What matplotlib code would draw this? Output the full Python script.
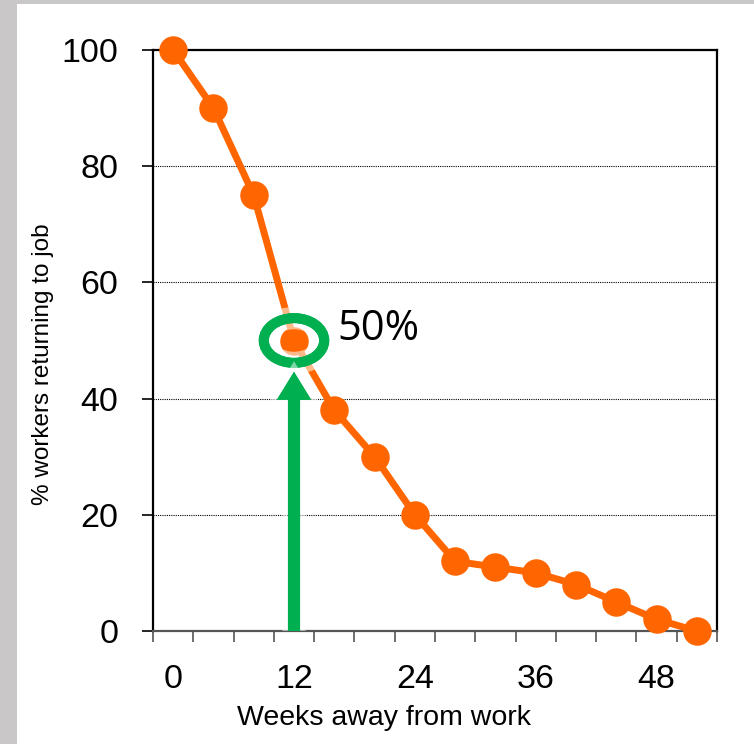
import matplotlib

matplotlib.use("Agg")
import matplotlib.pyplot as plt
from matplotlib import patheffects as pe
from matplotlib.patches import Ellipse, FancyArrow, Rectangle

# weeks away from work vs. share of workers who return
weeks = [0, 4, 8, 12, 16, 20, 24, 28, 32, 36, 40, 44, 48, 52]
pct_returning = [100, 90, 75, 50, 38, 30, 20, 12, 11, 10, 8, 5, 2, 0]
x_labels = [0, 12, 24, 36, 48]
y_ticks = [0, 20, 40, 60, 80, 100]
half_week = 12
half_value = 50

ORANGE = "#FF6600"
GREEN = "#00B050"

plt.rcParams["font.family"] = ["Liberation Sans", "DejaVu Sans"]

fig = plt.figure(figsize=(7.54, 7.44), dpi=100)
fig.patch.set_facecolor("#C9C7C7")
# white slide panel, kept behind the axes
fig.patches.append(Rectangle((17 / 754, 0), 1, 740 / 744, transform=fig.transFigure,
                             facecolor="white", edgecolor="none", zorder=-10))

ax = fig.add_axes([153 / 754, 113 / 744, 564 / 754, 581 / 744])
ax.set_facecolor("white")

ax.plot(weeks, pct_returning, color=ORANGE, linewidth=5, marker="o",
        markersize=19.5, clip_on=False, zorder=3)

ax.set_xlim(-2, 54)
ax.set_ylim(0, 100)

# labels every 12 weeks, tick marks between categories
ax.set_xticks(x_labels)
ax.set_xticks([w - 2 for w in weeks] + [54], minor=True)
ax.tick_params(axis="x", which="major", length=0, pad=24, labelsize=24.5)
ax.tick_params(axis="x", which="minor", length=8, width=1.2, color="#555555",
               direction="out")
ax.set_yticks(y_ticks)
ax.tick_params(axis="y", which="major", length=8, width=1.2, pad=17,
               labelsize=24.5, direction="out")

ax.grid(axis="y", color="black", linestyle=(0, (1, 1)), linewidth=0.8)
ax.set_axisbelow(True)
for s in ax.spines.values():
    s.set_color("black")
    s.set_linewidth(1.6)
ax.spines["bottom"].set_color("#555555")

ax.set_xlabel("Weeks away from work", fontsize=20.5)
ax.xaxis.set_label_coords(0.409, -0.127)
ax.set_ylabel("% workers returning to job", fontsize=17.5)
ax.yaxis.set_label_coords(-0.176, 0.459)

glow = [pe.withStroke(linewidth=16, foreground="white", alpha=0.55), pe.Normal()]

# highlight the point where half have returned
ring = Ellipse((half_week, half_value), width=6.0, height=7.7, fill=False,
               edgecolor=GREEN, linewidth=7.2, zorder=5, clip_on=False)
ring.set_path_effects(glow)
ax.add_patch(ring)

arrow = FancyArrow(half_week, 0, 0, 44.6, width=1.2, head_width=3.4,
                   head_length=4.8, length_includes_head=True,
                   facecolor=GREEN, edgecolor="none", zorder=5)
arrow.set_path_effects([pe.withStroke(linewidth=8, foreground="white", alpha=0.5),
                        pe.Normal()])
ax.add_patch(arrow)

ax.annotate(f"{half_value}%", (half_week, half_value), xytext=(31, 0.3),
            textcoords="offset points", fontsize=30, family="Open Sans",
            va="baseline", ha="left", color="black")

fig.savefig("out.png")
